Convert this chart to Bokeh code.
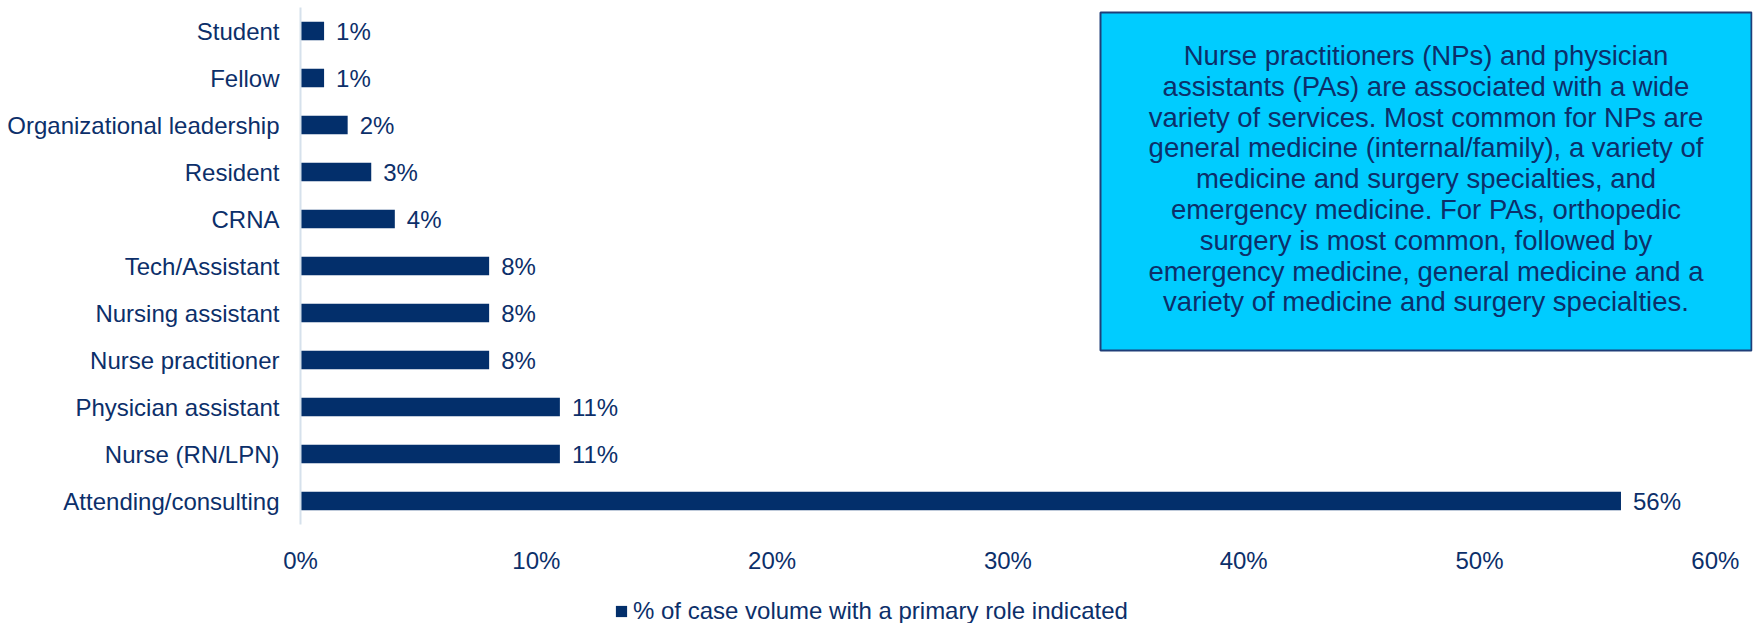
from bokeh.plotting import figure
from bokeh.layouts import column
from bokeh.models import (ColumnDataSource, FactorRange, Range1d, Label, BoxAnnotation,
                          Legend, LegendItem, FixedTicker)
from bokeh.core.properties import value
from bokeh.embed import file_html
from bokeh.resources import INLINE

# ---- data ----
categories = ["Student", "Fellow", "Organizational leadership", "Resident", "CRNA",
              "Tech/Assistant", "Nursing assistant", "Nurse practitioner",
              "Physician assistant", "Nurse (RN/LPN)", "Attending/consulting"]
values = [1, 1, 2, 3, 4, 8, 8, 8, 11, 11, 56]
value_labels = ["1%", "1%", "2%", "3%", "4%", "8%", "8%", "8%", "11%", "11%", "56%"]
x_ticks = [0, 10, 20, 30, 40, 50, 60]
x_tick_labels = ["0%", "10%", "20%", "30%", "40%", "50%", "60%"]
series_name = "% of case volume with a primary role indicated"
note_lines = [
    "Nurse practitioners (NPs) and physician",
    "assistants (PAs) are associated with a wide",
    "variety of services. Most common for NPs are",
    "general medicine (internal/family), a variety of",
    "medicine and surgery specialties, and",
    "emergency medicine. For PAs, orthopedic",
    "surgery is most common, followed by",
    "emergency medicine, general medicine and a",
    "variety of medicine and surgery specialties.",
]

# ---- style ----
NAVY = "#032f6b"
TEXT = "#0c2f6a"
FONT = "Liberation Sans"
W = 1754
H_MAIN, H_LEG = 577, 46
LEFT, RIGHT, TOP, BOTTOM = 300, 2, 7, 53
frame_w = W - LEFT - RIGHT
px_per_unit = 23.58
x_end = frame_w / px_per_unit

source = ColumnDataSource(dict(cat=categories, val=values, lab=value_labels))

p = figure(width=W, height=H_MAIN, output_backend="svg", toolbar_location=None,
           y_range=FactorRange(factors=categories[::-1]),
           x_range=Range1d(0, x_end),
           min_border_left=LEFT, min_border_right=RIGHT,
           min_border_top=TOP, min_border_bottom=BOTTOM)
p.outline_line_color = None
p.grid.visible = False
p.background_fill_color = "white"

bars = p.hbar(y="cat", right="val", left=0, height=0.39, source=source,
              fill_color=NAVY, line_color=None)

p.text(x="val", y="cat", text="lab", source=source, x_offset=12,
       text_baseline="middle", text_align="left",
       text_font=value(FONT), text_font_size=value("24px"), text_color=TEXT)

# axes
ya = p.yaxis[0]
ya.axis_line_color = "#d6e1ec"
ya.axis_line_width = 2
ya.major_tick_line_color = None
ya.minor_tick_line_color = None
ya.major_label_standoff = 15
ya.major_label_text_font = FONT
ya.major_label_text_font_size = "24px"
ya.major_label_text_color = TEXT

xa = p.xaxis[0]
xa.ticker = FixedTicker(ticks=x_ticks)
xa.major_label_overrides = {t: l for t, l in zip(x_ticks, x_tick_labels)}
xa.axis_line_color = None
xa.major_tick_line_color = None
xa.minor_tick_line_color = None
xa.major_label_standoff = 16
xa.major_label_text_font = FONT
xa.major_label_text_font_size = "24px"
xa.major_label_text_color = TEXT

# note box (annotation)
frame_h = H_MAIN - TOP - BOTTOM
py = len(categories) / frame_h  # data units per pixel (vertical)
def yd(ytop):  # canvas y from top -> data y
    return len(categories) - (ytop - TOP) * py
def xd(xpx):
    return (xpx - LEFT) / px_per_unit

box = BoxAnnotation(left=xd(1100), right=xd(1751), top=yd(12), bottom=yd(350),
                    fill_color="#00ccff", fill_alpha=1.0,
                    line_color="#1f3e78", line_width=2, line_alpha=1.0)
p.add_layout(box)
cx = xd(1425.5)
for i, line in enumerate(note_lines):
    p.add_layout(Label(x=cx, y=yd(55 + i * 30.8), text=line, text_align="center",
                       text_baseline="middle", text_font=FONT, text_font_size="27.5px",
                       text_color=TEXT))

# legend strip (separate figure below the chart; its frame is aligned with the chart's)
lg = figure(width=W, height=H_LEG, output_backend="svg", toolbar_location=None,
            x_axis_type=None, y_axis_type=None,
            min_border_left=0, min_border_right=0, min_border_top=0, min_border_bottom=0)
lg.outline_line_color = None
lg.grid.visible = False
lg_bars = lg.hbar(y="val", right="val", left=0, height=0.39, source=source,
                  fill_color=NAVY, line_color=None, visible=False)
legend = Legend(items=[LegendItem(label=series_name, renderers=[lg_bars])],
                location=(314, -2), orientation="horizontal",
                glyph_width=14, glyph_height=14, label_standoff=5,
                padding=0, margin=0, border_line_color=None,
                background_fill_alpha=0, label_text_font=FONT,
                label_text_font_size="24px", label_text_color=TEXT)
lg.add_layout(legend)

layout = column(p, lg, spacing=0)
open("out.html", "w").write(file_html(layout, INLINE))
